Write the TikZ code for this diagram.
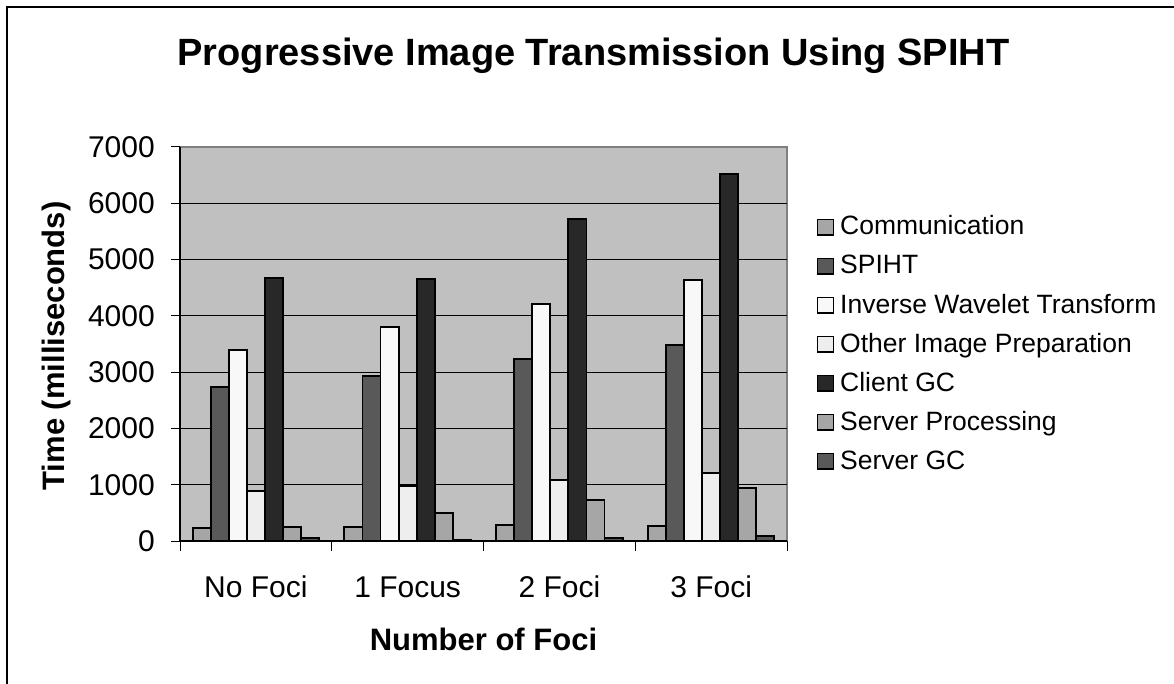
\documentclass[tikz,border=0pt]{standalone}
\usepackage{fontspec}
\setmainfont{Liberation Sans}
\definecolor{bar0}{HTML}{A6A6A6}
\definecolor{bar1}{HTML}{595959}
\definecolor{bar2}{HTML}{F8F8F8}
\definecolor{bar3}{HTML}{EEEEEE}
\definecolor{bar4}{HTML}{282828}
\definecolor{bar5}{HTML}{A6A6A6}
\definecolor{bar6}{HTML}{595959}
\definecolor{plotbg}{HTML}{C0C0C0}
\definecolor{plotframe}{HTML}{808080}
\tikzset{
  barbox/.style={draw=black, line width=1.9pt},
  ticklbl/.style={font=\fontsize{30}{36}\selectfont, inner sep=0pt},
  axistitle/.style={font=\bfseries\fontsize{31}{37}\selectfont, inner sep=0pt},
  legendlbl/.style={font=\fontsize{26.5}{32}\selectfont, inner sep=0pt, anchor=base west},
  legendbox/.style={draw=black, line width=1.6pt},
}
\begin{document}
\begin{tikzpicture}[x=1pt,y=-1pt]
\useasboundingbox (0,0) rectangle (1174,684);
\fill[white] (0,0) rectangle (1174,684);
% outer frame (left and top visible)
\draw[line width=1.5pt] (7,684) -- (7,7) -- (1174,7);
% plot area
\fill[plotbg] (180,147) rectangle (787,541);
\draw[plotframe, line width=1.5pt] (180,147) -- (787,147) -- (787,541);
\foreach \v in {1,...,6}
  \draw[line width=1pt] (180,{541-\v*56.3}) -- (787,{541-\v*56.3});
% bars
\foreach \g/\vals in {0/{225,2735,3387,888,4671,254,48},
                      1/{243,2931,3801,982,4650,497,18},
                      2/{284,3233,4210,1089,5714,728,48},
                      3/{272,3481,4636,1208,6513,936,89}}{
  \foreach \v [count=\k from 0] in \vals {
    \pgfmathsetmacro{\xa}{180+\g*151.75+12.65+\k*18.065}
    \pgfmathsetmacro{\ya}{541-\v*0.0563}
    \draw[barbox, fill=bar\k] (\xa,541) rectangle ({\xa+18.065},\ya);
  }
}
% axes
\draw[line width=1.3pt] (180,147) -- (180,541) -- (787,541);
\foreach \v in {0,...,7}{
  \draw[line width=1pt] (171,{541-\v*56.3}) -- (180,{541-\v*56.3});
  \node[ticklbl, anchor=east] (yt\v) at (155,{541-\v*56.3}) {\the\numexpr\v*1000\relax};
}
\foreach \g in {0,...,4}
  \draw[line width=1pt] ({180+\g*151.75},541) -- ++(0,10);
\foreach \lbl [count=\g from 0] in {No Foci,1 Focus,2 Foci,3 Foci}
  \node[ticklbl, anchor=base] (xt\g) at ({180+\g*151.75+75.875},597) {\lbl};
% titles
\node[font=\bfseries\fontsize{38}{46}\selectfont, inner sep=0pt, anchor=base] (title) at (593.5,66)
  {Progressive Image Transmission Using SPIHT};
\node[axistitle, rotate=90] (ytitle) at (56,346) {Time (milliseconds)};
\node[axistitle, anchor=base] (xtitle) at (483.5,650) {Number of Foci};
% legend
\foreach \lbl [count=\k from 0] in {Communication,SPIHT,Inverse Wavelet Transform,Other Image Preparation,Client GC,Server Processing,Server GC}{
  \draw[legendbox, fill=bar\k] (817.5,{235+\k*39-15.5}) rectangle (833.5,{235+\k*39});
  \node[legendlbl] (lg\k) at (840,{235+\k*39}) {\lbl};
}
\end{tikzpicture}
\end{document}
